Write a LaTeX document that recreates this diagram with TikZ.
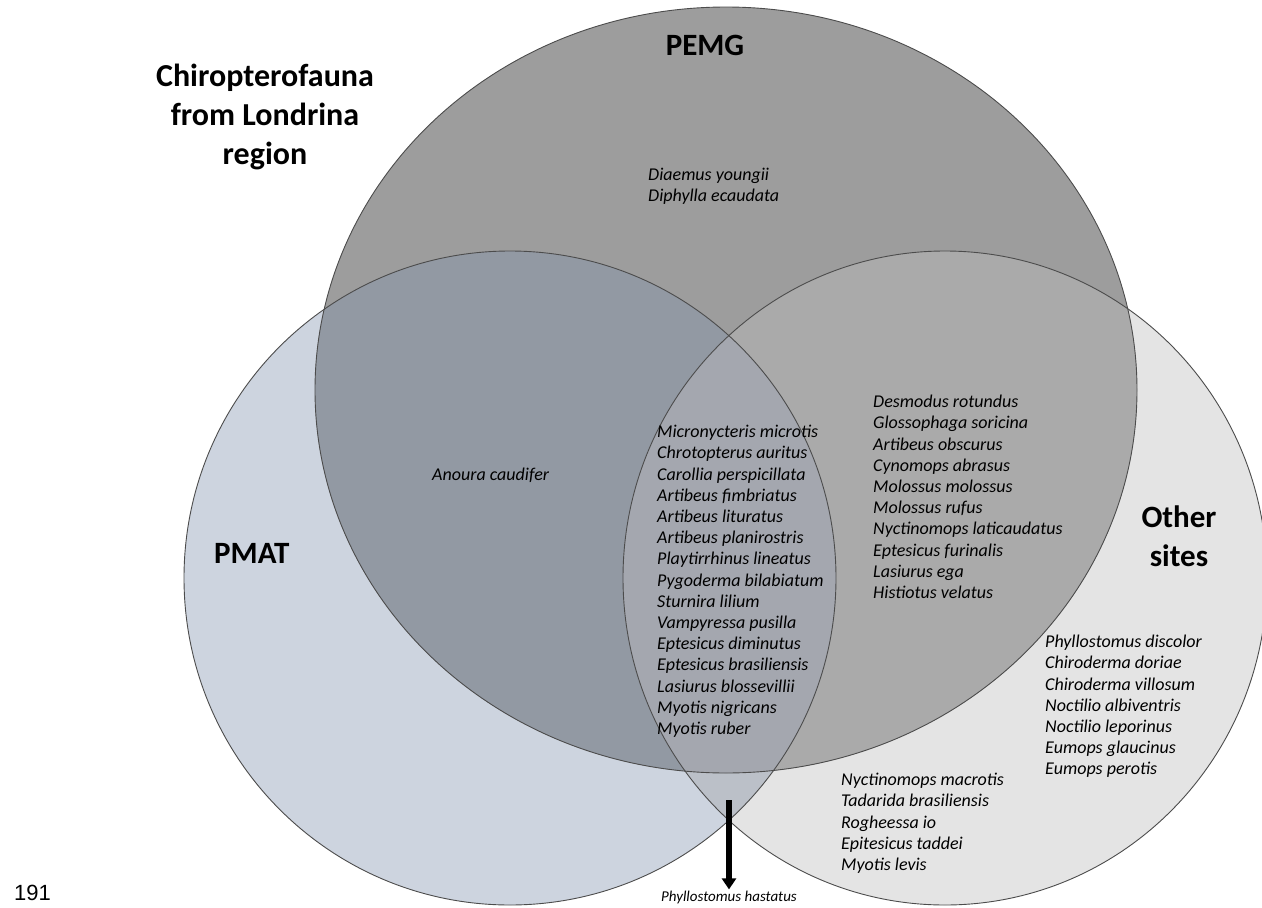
\documentclass[tikz,border=0pt]{standalone}
\usepackage{fontspec}
\setmainfont{Carlito}
\newfontfamily\pagefont{Liberation Sans}
\usetikzlibrary{arrows.meta}

\definecolor{pemgfill}{HTML}{9D9D9D}
\definecolor{pmatfill}{HTML}{CDD4DF}
\definecolor{otherfill}{HTML}{E4E4E4}
\definecolor{pemgpmat}{HTML}{9299A3}
\definecolor{pemgother}{HTML}{AAAAAA}
\definecolor{pmatother}{HTML}{BBC0C8}
\definecolor{allsets}{HTML}{A4A7AF}

\tikzset{
  species/.style={anchor=north west, align=left, inner sep=0pt,
    font=\fontsize{18}{21.2}\selectfont\itshape},
  setname/.style={font=\fontsize{31}{39}\selectfont\bfseries, align=center, inner sep=0pt},
  rim/.style={draw=black!70, line width=0.9pt}
}

\begin{document}
\begin{tikzpicture}[x=1pt, y=-1pt]
 \useasboundingbox (0,0) rectangle (1262,908);

 % centres of the three sets
 \coordinate (pemgc) at (726,390);
 \coordinate (pmatc) at (510,578);
 \coordinate (otherc) at (945,578);

 % plain fills
 \fill[otherfill] (otherc) ellipse [x radius=322pt, y radius=327pt];
 \fill[pmatfill] (pmatc) ellipse [x radius=326pt, y radius=327pt];
 \fill[pemgfill] (pemgc) ellipse [x radius=411pt, y radius=383pt];

 % overlaps
 \begin{scope}
  \clip (pemgc) ellipse [x radius=411pt, y radius=383pt];
  \fill[pemgpmat] (pmatc) ellipse [x radius=326pt, y radius=327pt];
  \fill[pemgother] (otherc) ellipse [x radius=322pt, y radius=327pt];
 \end{scope}
 \begin{scope}
  \clip (pmatc) ellipse [x radius=326pt, y radius=327pt];
  \fill[pmatother] (otherc) ellipse [x radius=322pt, y radius=327pt];
  \clip (pemgc) ellipse [x radius=411pt, y radius=383pt];
  \fill[allsets] (otherc) ellipse [x radius=322pt, y radius=327pt];
 \end{scope}

 % outlines
 \draw[rim] (pemgc) ellipse [x radius=411pt, y radius=383pt];
 \draw[rim] (pmatc) ellipse [x radius=326pt, y radius=327pt];
 \draw[rim] (otherc) ellipse [x radius=322pt, y radius=327pt];

 % headings
 \node[setname, font=\fontsize{32}{39}\selectfont\bfseries] (title) at (265,117) {Chiropterofauna\\from Londrina\\region};
 \node[setname] (pemglbl) at (705,45) {PEMG};
 \node[setname, anchor=west] (pmatlbl) at (214,553) {PMAT};
 \node[setname] (otherlbl) at (1179,536) {Other\\sites};

 % species lists
 \node[species] (pemgonly) at (648,168) {Diaemus youngii\\Diphylla ecaudata};
 \node[species] (pemgpmatlist) at (432,468) {Anoura caudifer};
 \node[species] (centrelist) at (657,425) {Micronycteris microtis\\Chrotopterus auritus\\
  Carollia perspicillata\\Artibeus fimbriatus\\Artibeus lituratus\\Artibeus planirostris\\
  Playtirrhinus lineatus\\Pygoderma bilabiatum\\Sturnira lilium\\Vampyressa pusilla\\
  Eptesicus diminutus\\Eptesicus brasiliensis\\Lasiurus blossevillii\\Myotis nigricans\\Myotis ruber};
 \node[species] (pemgotherlist) at (873,395) {Desmodus rotundus\\Glossophaga soricina\\
  Artibeus obscurus\\Cynomops abrasus\\Molossus molossus\\Molossus rufus\\
  Nyctinomops laticaudatus\\Eptesicus furinalis\\Lasiurus ega\\Histiotus velatus};
 \node[species] (otherlist) at (1045,635) {Phyllostomus discolor\\Chiroderma doriae\\
  Chiroderma villosum\\Noctilio albiventris\\Noctilio leporinus\\Eumops glaucinus\\Eumops perotis};
 \node[species] (otherlow) at (841,773) {Nyctinomops macrotis\\Tadarida brasiliensis\\
  Rogheessa io\\Epitesicus taddei\\Myotis levis};

 % species outside all sets
 \node[font=\fontsize{15}{18}\selectfont\itshape, inner sep=1pt] (hastatus) at (729,897) {Phyllostomus hastatus};
 \coordinate (arrowtop) at (729,800);
 \draw[line width=6pt, -{Triangle[width=14pt, length=11pt]}] (arrowtop) -- (hastatus.north);

 \node[font=\fontsize{22}{26}\selectfont\pagefont, anchor=west, inner sep=0pt] (pagenum) at (14,893) {191};
\end{tikzpicture}
\end{document}
